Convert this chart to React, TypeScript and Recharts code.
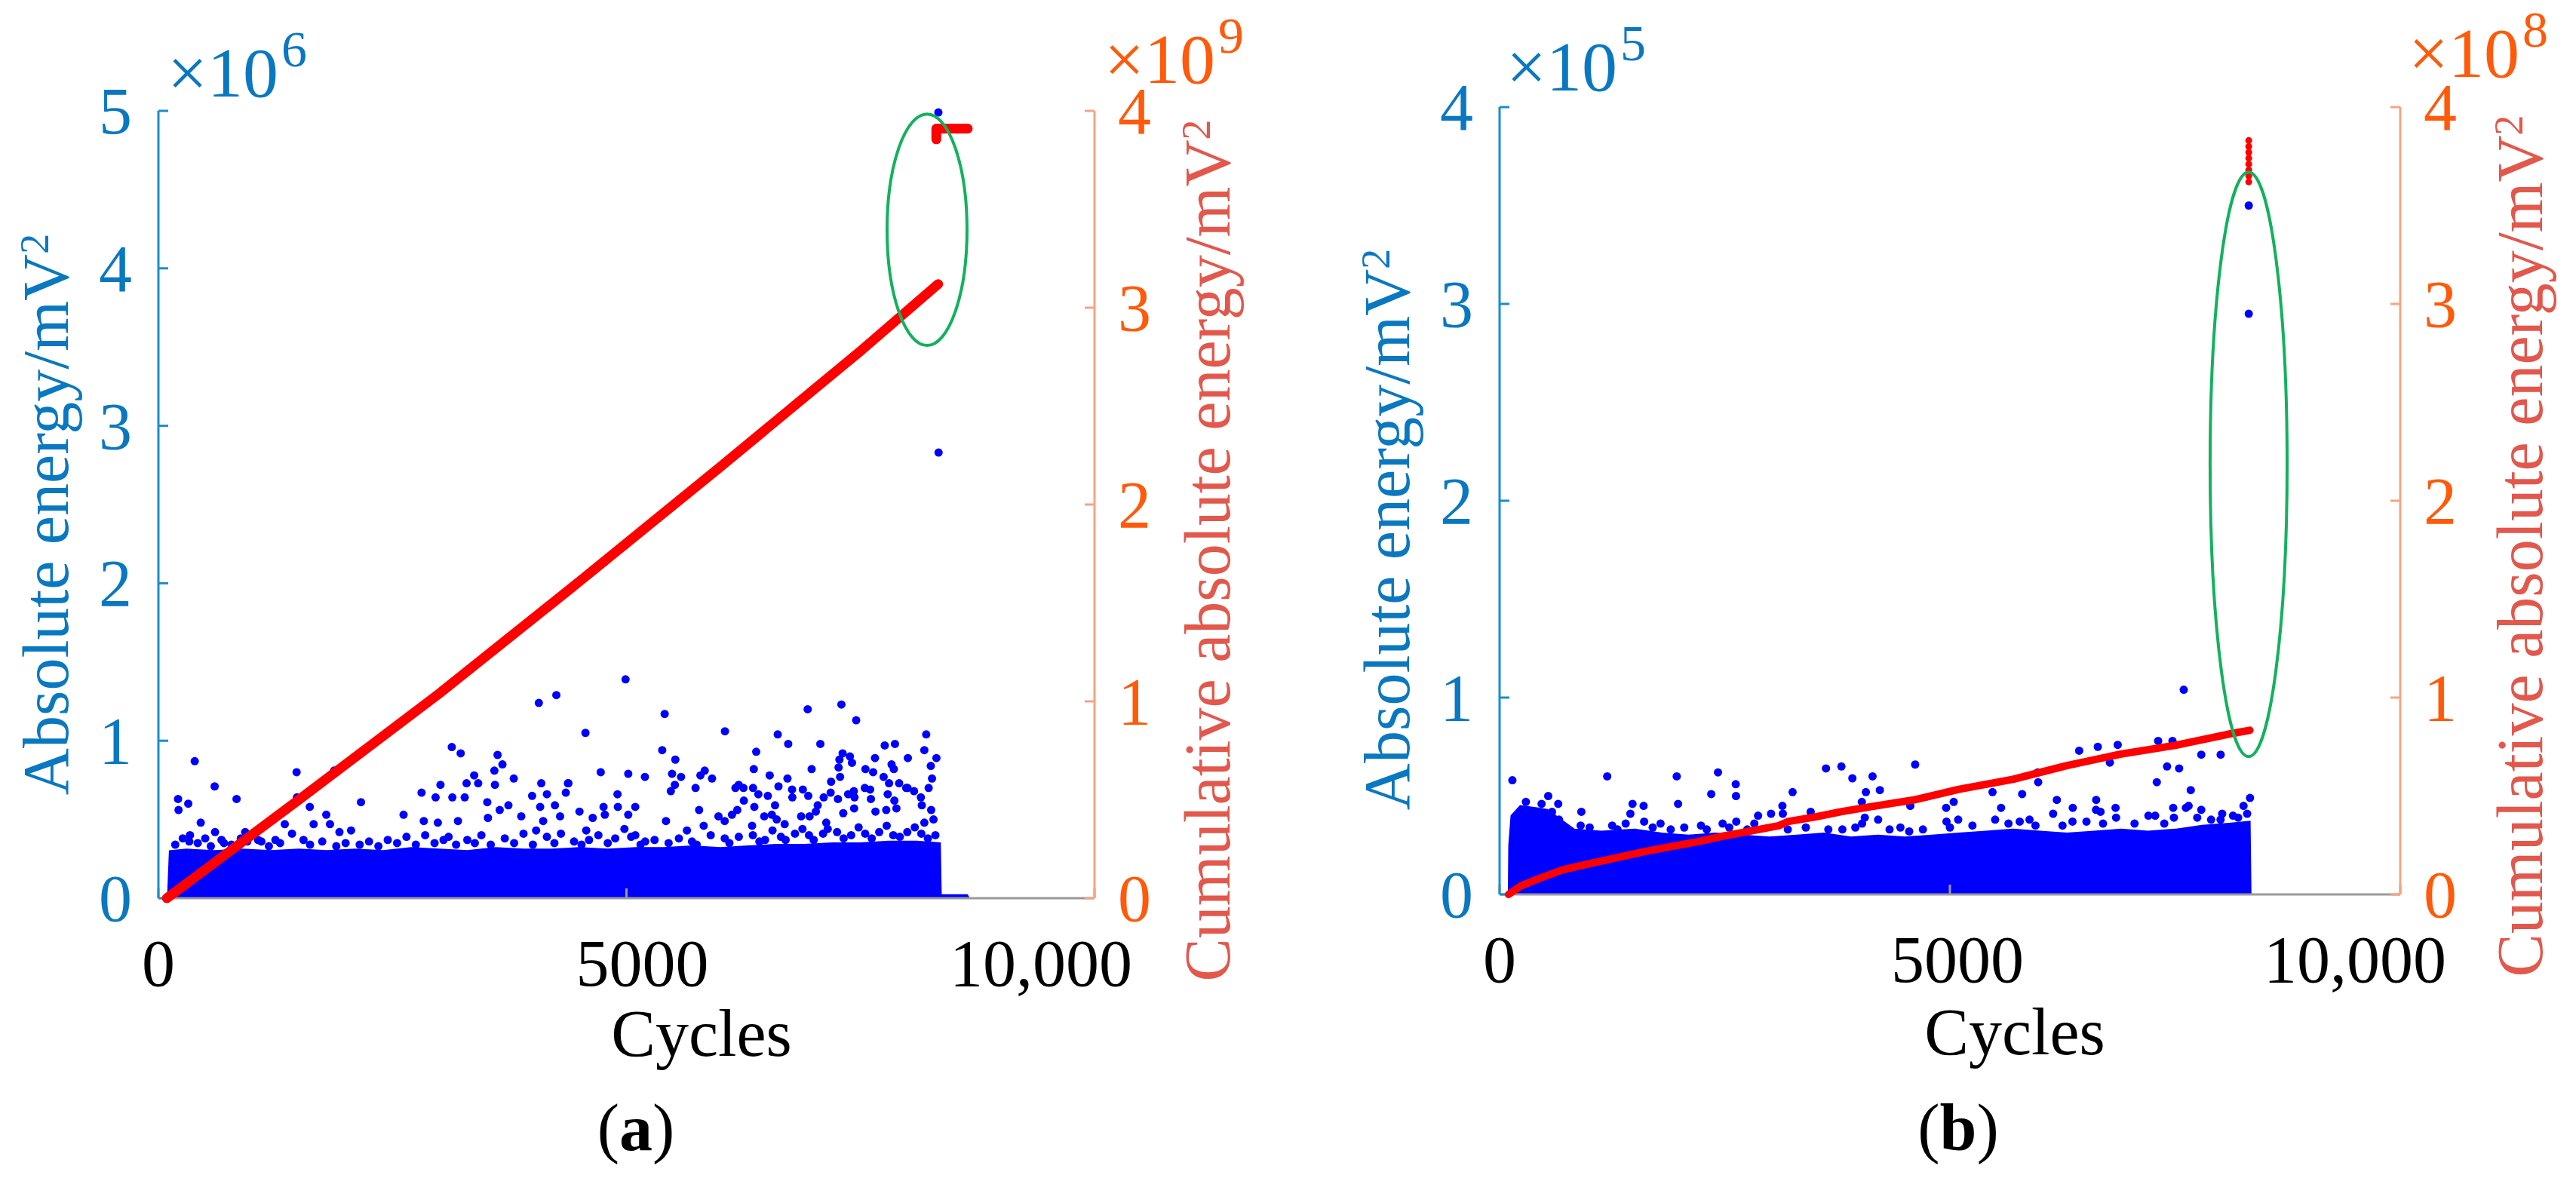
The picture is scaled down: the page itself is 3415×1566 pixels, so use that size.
import React from 'react';
import {
  ComposedChart,
  Area,
  Scatter,
  Line,
  XAxis,
  YAxis,
  ReferenceArea,
} from 'recharts';

const FONT = "'Liberation Serif', 'DejaVu Serif', serif";
const TXT = { fontFamily: FONT };
const DOT_BLUE = '#0000ff';
const RED = '#ff0000';
const AXIS_BLUE = '#1b8ccf';
const TEXT_BLUE = '#0a78c0';
const TICK_ORANGE = '#ff5a0a';
const TITLE_SALMON = '#e2584c';
const AXIS_SALMON = '#f9a382';
const FRAME_GRAY = '#9a9a9a';
const ELLIPSE_GREEN = '#13b15e';

// cycles axis
const cycleTicks = [0, 5000, 10000];

// ---------- (a)  left: x10^6 mV^2, right: x10^9 mV^2 ----------
const leftTicksA = [0, 1, 2, 3, 4, 5];
const rightTicksA = [0, 1, 2, 3, 4];

// top edge of the solid cloud of hits
const bandCyclesA = [100, 120, 300, 600, 900, 1200, 1500, 1800, 2100, 2400, 2700, 3000, 3300, 3600, 3900, 4200, 4500, 4800, 5100, 5400, 5700, 6000, 6300, 6600, 6900, 7200, 7500, 7800, 8100, 8350, 8360, 8640, 8660];
const bandTopA = [0, 0.30, 0.31, 0.30, 0.31, 0.30, 0.31, 0.30, 0.31, 0.30, 0.32, 0.31, 0.30, 0.32, 0.31, 0.31, 0.32, 0.31, 0.32, 0.32, 0.33, 0.32, 0.33, 0.34, 0.34, 0.35, 0.35, 0.36, 0.36, 0.35, 0.02, 0.02, 0];

const hitsA: [number, number][] = [
  [388, 0.87], [210, 0.63], [215, 0.56], [319, 0.60], [601, 0.71], [835, 0.63], [452, 0.48], [1476, 0.80],
  [1877, 0.81], [1480, 0.64], [1617, 0.58], [1793, 0.53], [2164, 0.61], [3134, 0.96], [3229, 0.92], [3623, 0.91],
  [3675, 0.85], [3589, 0.81], [4064, 1.24], [4251, 1.29], [3013, 0.72], [2811, 0.67], [2961, 0.64], [3140, 0.64],
  [3272, 0.64], [3292, 0.73], [3416, 0.73], [3373, 0.78], [3796, 0.76], [3595, 0.72], [3513, 0.61], [3646, 0.56],
  [3739, 0.59], [4090, 0.73], [3992, 0.65], [4150, 0.66], [4078, 0.58], [4236, 0.59], [4375, 0.73], [4352, 0.67],
  [2619, 0.53], [3520, 0.51], [3876, 0.52], [3200, 0.49], [2835, 0.49], [2985, 0.48], [4110, 0.49], [4291, 0.52],
  [1350, 0.47], [1658, 0.47], [1833, 0.47], [2058, 0.43], [1427, 0.41], [1934, 0.42], [337, 0.40], [605, 0.42],
  [927, 0.42], [674, 0.37], [1064, 0.37], [3046, 0.37], [4035, 0.43],
  [330, 0.36], [500, 0.38], [700, 0.35], [950, 0.36], [1100, 0.36], [1300, 0.35], [1550, 0.37], [1750, 0.36],
  [2000, 0.35], [2250, 0.36], [2450, 0.37], [2650, 0.39], [2850, 0.40], [3100, 0.39], [3300, 0.37], [3450, 0.40],
  [3700, 0.38], [3900, 0.41], [4150, 0.39], [4300, 0.41],
  [180, 0.34], [260, 0.38], [420, 0.35], [560, 0.33], [780, 0.34], [880, 0.38], [1180, 0.33], [1250, 0.37],
  [1620, 0.34], [1900, 0.33], [2150, 0.34], [2350, 0.33], [2550, 0.35], [2750, 0.34], [2950, 0.35], [3180, 0.34],
  [3380, 0.35], [3550, 0.34], [3800, 0.35], [4000, 0.34], [4230, 0.35],
  [4990, 1.39], [4562, 1.05], [5408, 1.17], [6052, 1.06], [6936, 1.20], [7296, 1.23], [7454, 1.13], [6616, 1.04],
  [6728, 0.98], [7071, 0.98], [6386, 0.93], [5382, 0.94], [5522, 0.88], [7759, 0.97], [7868, 0.98], [8202, 1.04],
  [8182, 0.94], [8311, 0.89], [8251, 0.84], [8264, 0.76], [8228, 0.70], [8255, 0.56], [8182, 0.48], [8006, 0.89],
  [7655, 0.89], [7553, 0.82], [7635, 0.80], [7832, 0.85], [7856, 0.82], [7747, 0.77], [7805, 0.73], [7913, 0.73],
  [8003, 0.70], [8072, 0.68], [8145, 0.64], [8155, 0.59], [7309, 0.92], [7387, 0.90], [7409, 0.86], [7275, 0.88],
  [7266, 0.83], [7282, 0.77], [7186, 0.74], [6978, 0.82], [6360, 0.82], [6530, 0.78], [6720, 0.76], [6624, 0.71],
  [6199, 0.72], [6164, 0.70], [6250, 0.70], [6352, 0.70], [6409, 0.66], [6510, 0.65], [6254, 0.62], [6366, 0.58],
  [6769, 0.69], [6772, 0.64], [6884, 0.69], [6942, 0.65], [7107, 0.64], [7181, 0.67], [7259, 0.63], [7368, 0.66],
  [7429, 0.68], [7436, 0.64], [7546, 0.70], [7603, 0.69], [7611, 0.63], [7791, 0.66], [7988, 0.70], [7862, 0.62],
  [7884, 0.57], [7775, 0.56], [7660, 0.55], [7432, 0.57], [7316, 0.54], [7043, 0.59], [7023, 0.55], [6956, 0.52],
  [6866, 0.52], [7134, 0.48], [6587, 0.59], [6553, 0.53], [6472, 0.52], [6605, 0.50], [6690, 0.47], [6342, 0.46],
  [5825, 0.46], [5983, 0.52], [6127, 0.53], [6184, 0.56], [5776, 0.56], [5738, 0.70], [5914, 0.76], [5790, 0.78],
  [5836, 0.81], [5583, 0.77], [5487, 0.79], [5517, 0.72], [5474, 0.68], [5197, 0.77], [5019, 0.79], [4725, 0.80],
  [4904, 0.66], [4908, 0.58], [4755, 0.58], [5094, 0.58], [5019, 0.53], [4498, 0.55], [4380, 0.73], [4639, 0.51],
  [4769, 0.53], [5422, 0.49], [5646, 0.43], [4570, 0.43], [4978, 0.44], [5094, 0.40], [6049, 0.49],
  [4440, 0.36], [4600, 0.37], [4700, 0.40], [4880, 0.38], [5050, 0.39], [5200, 0.36], [5300, 0.37], [5560, 0.38],
  [5700, 0.36], [5900, 0.40], [6050, 0.38], [6200, 0.39], [6350, 0.40], [6480, 0.37], [6650, 0.39], [6800, 0.41],
  [6950, 0.40], [7100, 0.41], [7250, 0.42], [7400, 0.40], [7550, 0.41], [7700, 0.42], [7850, 0.40], [8000, 0.42],
  [8150, 0.41], [8300, 0.40],
  [4520, 0.34], [4800, 0.35], [5150, 0.34], [5450, 0.35], [5750, 0.34], [6100, 0.35], [6420, 0.36], [6700, 0.37],
  [7000, 0.37], [7320, 0.38], [7620, 0.38], [7920, 0.39], [8220, 0.38], [7150, 0.44], [7480, 0.45], [7780, 0.46],
  [8080, 0.45], [6880, 0.44], [6560, 0.43], [8280, 0.50],
  [8334, 2.83], [8332, 4.99],
];

const cumCyclesA = [90, 1500, 3000, 4500, 6000, 7500, 8330];
const cumA = [0, 0.50, 1.04, 1.61, 2.19, 2.78, 3.12];
const cumTailCyclesA = [8310, 8310, 8646];
const cumTailA = [3.855, 3.91, 3.91];
const ringA = { x1: 7784, x2: 8638, y1: 3.51, y2: 4.98 };

// ---------- (b)  left: x10^5 mV^2, right: x10^8 mV^2 ----------
const leftTicksB = [0, 1, 2, 3, 4];
const rightTicksB = [0, 1, 2, 3, 4];

const bandCyclesB = [100, 105, 130, 230, 400, 530, 680, 830, 1130, 1500, 1800, 2100, 2400, 2700, 3000, 3300, 3600, 3900, 4200, 4500, 4800, 5100, 5400, 5700, 6000, 6300, 6600, 6900, 7200, 7500, 7800, 8100, 8330, 8340];
const bandTopB = [0, 0.25, 0.40, 0.45, 0.44, 0.43, 0.38, 0.33, 0.32, 0.33, 0.31, 0.30, 0.31, 0.30, 0.29, 0.30, 0.31, 0.29, 0.30, 0.29, 0.30, 0.31, 0.32, 0.33, 0.32, 0.31, 0.32, 0.33, 0.32, 0.33, 0.35, 0.36, 0.37, 0];

const hitsB: [number, number][] = [
  [142, 0.58], [1195, 0.60], [1967, 0.60], [2425, 0.62], [2622, 0.56], [2625, 0.50], [2350, 0.51], [1982, 0.46],
  [3253, 0.52], [3624, 0.64], [3795, 0.65], [3917, 0.59], [4141, 0.60], [4067, 0.52], [4222, 0.53], [4022, 0.47],
  [4614, 0.66], [1476, 0.46], [1599, 0.45], [1452, 0.41], [908, 0.42], [540, 0.50], [466, 0.46], [651, 0.46],
  [292, 0.47], [582, 0.42], [660, 0.38], [1605, 0.37], [1787, 0.36], [2236, 0.35], [2476, 0.36], [2628, 0.37],
  [2870, 0.40], [3014, 0.41], [3140, 0.45], [3145, 0.41], [3454, 0.42], [2828, 0.36], [4330, 0.33], [4548, 0.32],
  [4055, 0.39], [4203, 0.38], [4025, 0.36], [3806, 0.33], [1309, 0.33],
  [900, 0.35], [1000, 0.34], [1250, 0.35], [1400, 0.36], [1700, 0.34], [1900, 0.33], [2050, 0.34], [2300, 0.33],
  [2550, 0.34], [2750, 0.33], [3200, 0.33], [3400, 0.34], [3650, 0.33], [3950, 0.34], [4450, 0.34], [4700, 0.33],
  [7596, 1.04], [6435, 0.73], [6642, 0.75], [6863, 0.76], [7312, 0.78], [7471, 0.78], [7791, 0.71], [8006, 0.71],
  [7411, 0.65], [7545, 0.64], [7297, 0.57], [7674, 0.53], [8332, 0.49], [8260, 0.45], [5975, 0.62], [5980, 0.57],
  [6776, 0.67], [5473, 0.52], [5802, 0.51], [6187, 0.48], [6624, 0.48], [5042, 0.47], [4958, 0.44], [5568, 0.44],
  [6364, 0.44], [6839, 0.44], [6622, 0.43], [6672, 0.42], [6845, 0.39], [7204, 0.40], [7279, 0.40], [7479, 0.44],
  [7620, 0.44], [7791, 0.43], [7650, 0.45], [7487, 0.39], [8023, 0.41], [8143, 0.40], [5092, 0.38], [4962, 0.37],
  [5502, 0.38], [5775, 0.37], [5884, 0.38], [6146, 0.41], [6361, 0.37], [6516, 0.37], [7746, 0.39], [8005, 0.38],
  [4560, 0.45],
  [5000, 0.34], [5250, 0.35], [5650, 0.36], [5950, 0.35], [6250, 0.35], [6700, 0.36], [7050, 0.36], [7380, 0.36],
  [7900, 0.38], [8200, 0.39], [8300, 0.41],
  [8318, 3.50], [8318, 2.95],
];

const cumCyclesB = [100, 230, 400, 700, 1000, 1300, 1600, 1900, 2200, 2500, 2800, 3100, 3200, 3500, 3800, 4100, 4400, 4600, 5100, 5700, 6300, 6900, 7500, 8100, 8330];
const cumB = [0, 0.042, 0.074, 0.125, 0.157, 0.186, 0.217, 0.243, 0.268, 0.298, 0.323, 0.349, 0.370, 0.393, 0.421, 0.444, 0.466, 0.48, 0.534, 0.585, 0.655, 0.713, 0.757, 0.815, 0.834];
const cumTailCyclesB = [8318, 8318, 8318, 8318, 8318, 8318, 8318, 8318];
const cumTailB = [3.62, 3.65, 3.68, 3.71, 3.74, 3.77, 3.80, 3.83];
const ringB = { x1: 7889, x2: 8744, y1: 0.70, y2: 3.67 };

type Pt = { x: number; y: number };
const zip = (xs: number[], ys: number[]): Pt[] => xs.map((x, i) => ({ x, y: ys[i] }));
const pairs = (list: [number, number][]): Pt[] => list.map(([x, y]) => ({ x, y }));

const fmtCycles = (v: number) => (v >= 10000 ? '10,000' : String(v));

const dot = (r: number, color: string) => (p: any) =>
  <circle cx={p.cx} cy={p.cy} r={r} fill={color} />;

const ellipseShape = (p: any) => (
  <ellipse
    cx={p.x + p.width / 2}
    cy={p.y + p.height / 2}
    rx={Math.abs(p.width) / 2}
    ry={Math.abs(p.height) / 2}
    fill="none"
    stroke={ELLIPSE_GREEN}
    strokeWidth={4}
  />
);

type Spot = { x: number; y: number };

const VTitle = ({ at, color, text }: { at: Spot; color: string; text: string }) => (
  <text
    x={at.x}
    y={at.y}
    transform={`rotate(-90 ${at.x} ${at.y})`}
    textAnchor="middle"
    fill={color}
    fontSize={86}
    fontFamily={FONT}
    style={TXT}
  >
    {text}
    <tspan dy={-26} fontSize={54}>2</tspan>
  </text>
);

const Exponent = ({ at, color, exp }: { at: Spot; color: string; exp: string }) => (
  <text x={at.x} y={at.y} fill={color} fontSize={94} fontFamily={FONT} style={TXT}>
    ×10
    <tspan dx={4} dy={-40} fontSize={68}>{exp}</tspan>
  </text>
);

type PanelDef = {
  offset: number;
  margin: { top: number; right: number; bottom: number; left: number };
  leftMax: number;
  rightMax: number;
  leftTicks: number[];
  rightTicks: number[];
  band: Pt[];
  hits: Pt[];
  cum: Pt[];
  cumTail: Pt[];
  tailAsDots: boolean;
  ring: { x1: number; x2: number; y1: number; y2: number };
  lineWidth: number;
  expLeft: string;
  expRight: string;
  letter: string;
  shift: Record<number, number>;
  pos: { leftTitle: Spot; rightTitle: Spot; leftExp: Spot; rightExp: Spot; cycles: Spot; caption: Spot };
};

const W = 1707;
const H = 1566;

const Panel = ({ d }: { d: PanelDef }) => (
  <div style={{ position: 'absolute', left: d.offset, top: 0, width: W, height: H, fontFamily: FONT }}>
    <ComposedChart width={W} height={H} margin={d.margin} style={TXT}>
      <XAxis
        dataKey="x"
        type="number"
        domain={[0, 10000]}
        ticks={cycleTicks}
        height={110}
        tickSize={-13}
        tickMargin={67}
        axisLine={{ stroke: FRAME_GRAY, strokeWidth: 3 }}
        tickLine={{ stroke: FRAME_GRAY, strokeWidth: 3 }}
        tick={(p: any) => (
          <text
            x={p.x + (d.shift[p.payload.value] || 0)}
            y={p.y}
            dy="0.7em"
            textAnchor="middle"
            fill="#000"
            fontSize={88}
            fontFamily={FONT}
            style={TXT}
          >
            {fmtCycles(p.payload.value)}
          </text>
        )}
        label={() => (
          <g>
            <text x={d.pos.cycles.x} y={d.pos.cycles.y} textAnchor="middle" fill="#000" fontSize={88} fontFamily={FONT} style={TXT}>
              Cycles
            </text>
            <text x={d.pos.caption.x} y={d.pos.caption.y} textAnchor="middle" fill="#000" fontSize={88} fontFamily={FONT} style={TXT}>
              (<tspan fontWeight="bold">{d.letter}</tspan>)
            </text>
          </g>
        )}
      />
      <XAxis
        xAxisId="top"
        orientation="top"
        dataKey="x"
        type="number"
        domain={[0, 10000]}
        ticks={cycleTicks}
        height={0}
        tickSize={-13}
        axisLine={{ stroke: FRAME_GRAY, strokeWidth: 3 }}
        tickLine={{ stroke: FRAME_GRAY, strokeWidth: 3 }}
        tick={() => <g />}
      />
      <YAxis
        yAxisId="left"
        type="number"
        domain={[0, d.leftMax]}
        ticks={d.leftTicks}
        width={110}
        tickSize={-13}
        tickMargin={48}
        axisLine={{ stroke: AXIS_BLUE, strokeWidth: 3 }}
        tickLine={{ stroke: AXIS_BLUE, strokeWidth: 3 }}
        tick={(p: any) => (
          <text x={p.x} y={p.y} dy="0.34em" textAnchor="end" fill={TEXT_BLUE} fontSize={88} fontFamily={FONT} style={TXT}>
            {p.payload.value}
          </text>
        )}
        label={() => (
          <g>
            <VTitle at={d.pos.leftTitle} color={TEXT_BLUE} text="Absolute energy/mV" />
            <Exponent at={d.pos.leftExp} color={TEXT_BLUE} exp={d.expLeft} />
          </g>
        )}
      />
      <YAxis
        yAxisId="right"
        orientation="right"
        type="number"
        domain={[0, d.rightMax]}
        ticks={d.rightTicks}
        width={130}
        tickSize={-13}
        tickMargin={44}
        axisLine={{ stroke: AXIS_SALMON, strokeWidth: 3 }}
        tickLine={{ stroke: AXIS_SALMON, strokeWidth: 3 }}
        tick={(p: any) => (
          <text x={p.x} y={p.y} dy="0.34em" textAnchor="start" fill={TICK_ORANGE} fontSize={88} fontFamily={FONT} style={TXT}>
            {p.payload.value}
          </text>
        )}
        label={() => (
          <g>
            <VTitle at={d.pos.rightTitle} color={TITLE_SALMON} text="Cumulative absolute energy/mV" />
            <Exponent at={d.pos.rightExp} color={TICK_ORANGE} exp={d.expRight} />
          </g>
        )}
      />
      <Area
        data={d.band}
        dataKey="y"
        yAxisId="left"
        type="linear"
        fill={DOT_BLUE}
        fillOpacity={1}
        stroke={DOT_BLUE}
        strokeWidth={2}
        dot={false}
        activeDot={false}
        isAnimationActive={false}
        zIndex={100}
      />
      <Scatter
        data={d.hits}
        dataKey="y"
        yAxisId="left"
        fill={DOT_BLUE}
        shape={dot(5.5, DOT_BLUE)}
        isAnimationActive={false}
        zIndex={600}
      />
      <Line
        data={d.cum}
        dataKey="y"
        yAxisId="right"
        type="linear"
        stroke={RED}
        strokeWidth={d.lineWidth}
        strokeLinecap="round"
        strokeLinejoin="round"
        dot={false}
        activeDot={false}
        isAnimationActive={false}
        zIndex={700}
      />
      {d.tailAsDots ? (
        <Scatter
          data={d.cumTail}
          dataKey="y"
          yAxisId="right"
          fill={RED}
          shape={dot(4.5, RED)}
          isAnimationActive={false}
          zIndex={720}
        />
      ) : (
        <Line
          data={d.cumTail}
          dataKey="y"
          yAxisId="right"
          type="linear"
          stroke={RED}
          strokeWidth={d.lineWidth}
          strokeLinecap="round"
          strokeLinejoin="round"
          dot={false}
          activeDot={false}
          isAnimationActive={false}
          zIndex={720}
        />
      )}
      <ReferenceArea
        yAxisId="left"
        x1={d.ring.x1}
        x2={d.ring.x2}
        y1={d.ring.y1}
        y2={d.ring.y2}
        shape={ellipseShape}
        ifOverflow="visible"
        zIndex={800}
      />
    </ComposedChart>
  </div>
);

const panelA: PanelDef = {
  offset: 0,
  margin: { top: 147, right: 126, bottom: 265, left: 100 },
  leftMax: 5,
  rightMax: 4,
  leftTicks: leftTicksA,
  rightTicks: rightTicksA,
  band: zip(bandCyclesA, bandTopA),
  hits: pairs(hitsA),
  cum: zip(cumCyclesA, cumA),
  cumTail: zip(cumTailCyclesA, cumTailA),
  tailAsDots: false,
  ring: ringA,
  lineWidth: 13,
  expLeft: '6',
  expRight: '9',
  letter: 'a',
  shift: { 5000: 21, 10000: -71 },
  pos: {
    leftTitle: { x: 90, y: 682 },
    rightTitle: { x: 1630, y: 730 },
    leftExp: { x: 222, y: 128 },
    rightExp: { x: 1464, y: 110 },
    cycles: { x: 930, y: 1400 },
    caption: { x: 843, y: 1525 },
  },
};

const panelB: PanelDef = {
  offset: 1708,
  margin: { top: 142, right: 103, bottom: 270, left: 170 },
  leftMax: 4,
  rightMax: 4,
  leftTicks: leftTicksB,
  rightTicks: rightTicksB,
  band: zip(bandCyclesB, bandTopB),
  hits: pairs(hitsB),
  cum: zip(cumCyclesB, cumB),
  cumTail: zip(cumTailCyclesB, cumTailB),
  tailAsDots: true,
  ring: ringB,
  lineWidth: 10,
  expLeft: '5',
  expRight: '8',
  letter: 'b',
  shift: { 5000: 10, 10000: -60 },
  pos: {
    leftTitle: { x: 160, y: 702 },
    rightTitle: { x: 1662, y: 724 },
    leftExp: { x: 289, y: 120 },
    rightExp: { x: 1485, y: 102 },
    cycles: { x: 963, y: 1398 },
    caption: { x: 888, y: 1525 },
  },
};

export default function App() {
  return (
    <div style={{ position: 'absolute', left: 0, top: 0, width: 3415, height: 1566, background: '#fff', fontFamily: FONT }}>
      <Panel d={panelA} />
      <Panel d={panelB} />
    </div>
  );
}
